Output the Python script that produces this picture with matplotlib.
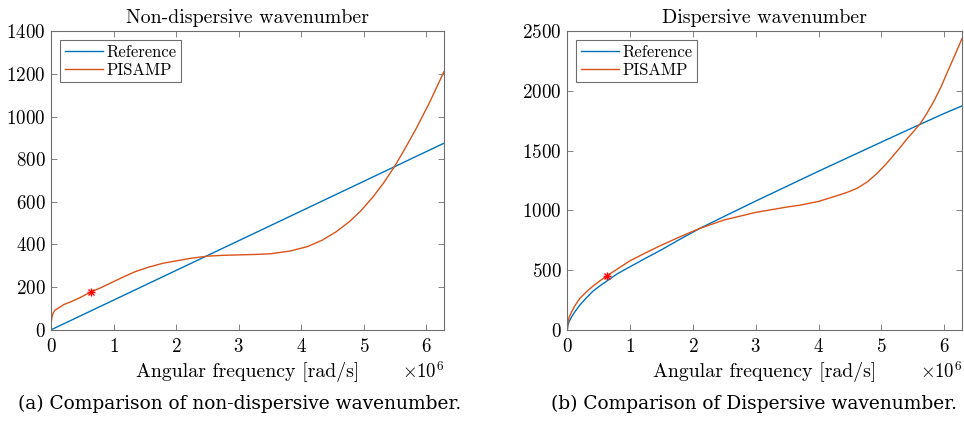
"""Wavenumber comparison: reference vs PISAMP, non-dispersive and dispersive."""

import matplotlib

matplotlib.use("Agg")
import matplotlib.pyplot as plt  # noqa: E402

plt.rcParams["font.family"] = ["cmr10", "DejaVu Serif"]
plt.rcParams["mathtext.fontset"] = "cm"
plt.rcParams["axes.formatter.use_mathtext"] = True
plt.rcParams["axes.unicode_minus"] = False

BLUE = "#0072BD"
ORANGE = "#D95319"
AXIS_GREY = "#6e6e6e"

# angular frequency in units of 1e6 rad/s
OMEGA_MAX = 6.283

# (a) non-dispersive wavenumber
nd_ref_omega = [0.0, OMEGA_MAX]
nd_ref_k = [0.0, 875.0]
nd_pis_omega = [0.0, 0.01, 0.03, 0.06, 0.11, 0.2, 0.33, 0.47, 0.62, 0.8, 0.97,
                1.15, 1.34, 1.55, 1.79, 2.0, 2.25, 2.5, 2.75, 3.0, 3.25, 3.5,
                3.82, 4.1, 4.34, 4.55, 4.77, 4.96, 5.15, 5.32, 5.49, 5.66, 5.84,
                6.05, OMEGA_MAX]
nd_pis_k = [37, 58, 78, 92, 101, 118, 133, 152, 175, 198, 222, 247, 272, 293,
            312, 323, 336, 345, 349, 351, 353, 356, 369, 390, 421, 458, 507,
            560, 624, 690, 765, 850, 945, 1065, 1211]
nd_marker = (0.628, 175)

# (b) dispersive wavenumber
d_ref_omega = [0.0, 0.01, 0.03, 0.07, 0.12, 0.2, 0.3, 0.41, 0.52, 0.635, 0.8,
               1.0, 1.25, 1.5, 1.8, 2.11, 2.5, 3.0, 3.5, 4.0, 4.5, 5.0, 5.5,
               6.0, OMEGA_MAX]
d_ref_k = [0, 40, 70, 109, 150, 207, 265, 324, 368, 410, 470, 528, 600, 670,
           760, 849, 950, 1078, 1203, 1328, 1450, 1572, 1693, 1812, 1875]
d_pis_omega = [0.0, 0.01, 0.03, 0.07, 0.12, 0.2, 0.3, 0.41, 0.52, 0.635, 0.8,
               1.0, 1.25, 1.5, 1.8, 2.11, 2.5, 3.0, 3.5, 3.71, 4.0, 4.24, 4.45,
               4.61, 4.78, 4.93, 5.06, 5.19, 5.3, 5.4, 5.51, 5.62, 5.72, 5.83,
               5.94, 6.04, 6.16, OMEGA_MAX]
d_pis_k = [0, 60, 105, 151, 200, 263, 315, 366, 410, 453, 510, 578, 645, 709,
           780, 849, 920, 983, 1028, 1044, 1075, 1114, 1150, 1184, 1240, 1310,
           1380, 1460, 1528, 1595, 1660, 1728, 1810, 1910, 2025, 2147, 2290,
           2440]
d_marker = (0.628, 453)

panels = [
    ("Non-dispersive wavenumber", nd_ref_omega, nd_ref_k, nd_pis_omega,
     nd_pis_k, nd_marker, 1400, range(0, 1401, 200),
     "(a) Comparison of non-dispersive wavenumber.", 0.249),
    ("Dispersive wavenumber", d_ref_omega, d_ref_k, d_pis_omega, d_pis_k,
     d_marker, 2500, range(0, 2501, 500),
     "(b) Comparison of Dispersive wavenumber.", 0.782),
]

fig = plt.figure(figsize=(9.64, 4.25), dpi=100)
axes_rects = [[0.0532, 0.2242, 0.4074, 0.7022], [0.5885, 0.2242, 0.4095, 0.7022]]

for rect, (title, r_x, r_y, p_x, p_y, mark, ymax, yticks, caption, cx) in zip(
        axes_rects, panels):
    ax = fig.add_axes(rect)
    ax.plot(r_x, r_y, color=BLUE, lw=1.0, label="Reference")
    ax.plot(p_x, p_y, color=ORANGE, lw=1.0, label="PISAMP")
    # MATLAB-style asterisk marker
    ax.plot(*mark, marker="+", color="red", ms=6, mew=1.0)
    ax.plot(*mark, marker="x", color="red", ms=4.5, mew=1.0)

    ax.set_xlim(0, OMEGA_MAX)
    ax.set_ylim(0, ymax)
    ax.set_xticks(range(0, 7))
    ax.set_yticks(list(yticks))
    ax.tick_params(direction="in", top=True, right=True, length=4,
                   width=0.6, color=AXIS_GREY, labelsize=13.7)
    ax.tick_params(axis="y", pad=4.3)
    ax.tick_params(axis="x", pad=6)
    for sp in ax.spines.values():
        sp.set_color(AXIS_GREY)
        sp.set_linewidth(0.8)

    ax.set_title(title, fontsize=14.3, pad=6)
    ax.set_xlabel("Angular frequency [rad/s]", fontsize=14.3, labelpad=4)
    ax.text(1.0, -0.162, r"$\times10^{6}$", transform=ax.transAxes,
            ha="right", va="baseline", fontsize=13.5)

    leg = ax.legend(loc="upper left", fontsize=12, frameon=True, fancybox=False,
                    edgecolor=AXIS_GREY, framealpha=1, borderpad=0.25,
                    handlelength=2.3, handletextpad=0.2, labelspacing=0.15,
                    borderaxespad=0.55)
    leg.get_frame().set_linewidth(0.8)

    fig.text(cx, 0.0376, caption, ha="center", va="baseline", fontsize=13.4,
             family="DejaVu Serif")

fig.savefig("out.png", dpi=100)
